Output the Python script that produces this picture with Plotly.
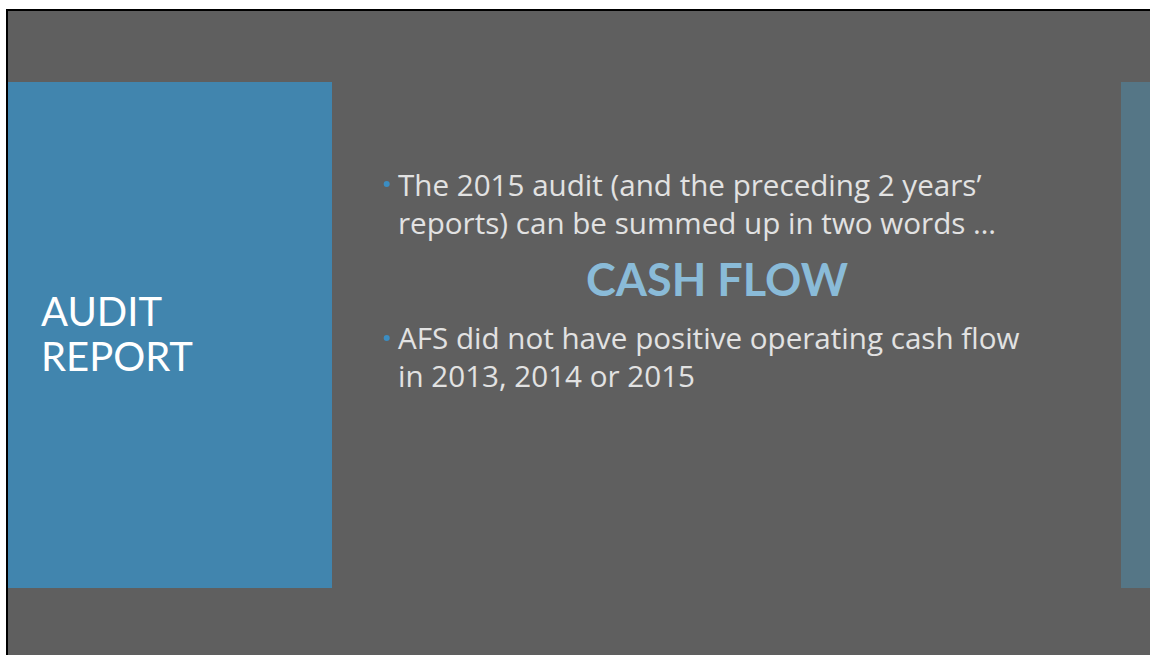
import plotly.graph_objects as go

W, H = 1150, 655

# Slide content
title_lines = ["AUDIT", "REPORT"]
bullet1_lines = ["The 2015 audit (and the preceding 2 years’", "reports) can be summed up in two words …"]
highlight = "CASH FLOW"
bullet2_lines = ["AFS did not have positive operating cash flow", "in 2013, 2014 or 2015"]

GRAY = "#5f5f5f"
BLUE = "#4185ae"
STRIP = "#557686"
TEXT = "#e2e2e2"
HIGHLIGHT = "#8abbd8"
DOT = "#3b8dc2"

fig = go.Figure()
fig.add_trace(go.Scatter(x=[0, W], y=[0, H], mode="markers", marker=dict(opacity=0), hoverinfo="skip", showlegend=False))

shapes = [
    dict(type="rect", x0=6, y0=9, x1=W + 5, y1=H + 5, fillcolor="black", line=dict(width=0), layer="below"),
    dict(type="rect", x0=8, y0=11, x1=W + 5, y1=H + 5, fillcolor=GRAY, line=dict(width=0), layer="below"),
    dict(type="rect", x0=8, y0=82, x1=332, y1=588, fillcolor=BLUE, line=dict(width=0), layer="below"),
    dict(type="rect", x0=1121, y0=82, x1=W + 5, y1=588, fillcolor=STRIP, line=dict(width=0), layer="below"),
]
# bullets
for by in [184, 338]:
    shapes.append(dict(type="circle", x0=383.7, y0=by - 3, x1=389.7, y1=by + 3, fillcolor=DOT,
                       line=dict(width=0), layer="above"))

ann = []
for i, t in enumerate(title_lines):
    ann.append(dict(x=39, y=311 + i * 45, text=t, showarrow=False, xanchor="left", yanchor="middle",
                    font=dict(family="Lato", size=40, color="white")))
ann.append(dict(x=396, y=203, text="<br>".join(bullet1_lines), showarrow=False, xanchor="left",
                yanchor="middle", align="left",
                font=dict(family="Open Sans", size=29.6, color=TEXT)))
ann.append(dict(x=717, y=279, text=f"<b>{highlight}</b>", showarrow=False, xanchor="center", yanchor="middle",
                font=dict(family="Lato", size=45, color=HIGHLIGHT)))
ann.append(dict(x=396, y=356, text="<br>".join(bullet2_lines), showarrow=False, xanchor="left",
                yanchor="middle", align="left",
                font=dict(family="Open Sans", size=29.6, color=TEXT)))

fig.update_layout(
    width=W, height=H, margin=dict(l=0, r=0, t=0, b=0),
    paper_bgcolor="white", plot_bgcolor="white",
    xaxis=dict(range=[0, W], visible=False, fixedrange=True),
    yaxis=dict(range=[H, 0], visible=False, fixedrange=True),
    shapes=shapes, annotations=ann, showlegend=False,
)

fig.write_html("out.html", config={"displayModeBar": False},
               post_script="document.body.style.margin='0';document.body.style.overflow='hidden';")
